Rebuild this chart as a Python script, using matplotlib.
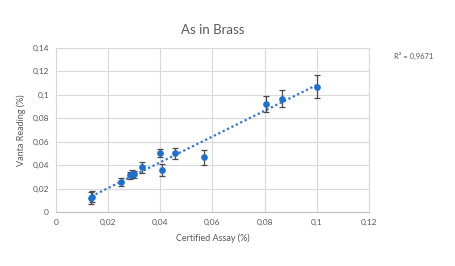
import numpy as np
import matplotlib
matplotlib.use('Agg')
import matplotlib.pyplot as plt
from matplotlib.ticker import FuncFormatter

plt.rcParams['font.family'] = ['Lato', 'DejaVu Sans']

# Data
certified = [0.0135, 0.0140, 0.0250, 0.0285, 0.0293, 0.0300, 0.0329, 0.0398, 0.0408, 0.0457, 0.0567, 0.0807, 0.0867, 0.0999]
vanta = [0.0118, 0.0132, 0.0259, 0.0315, 0.0327, 0.0322, 0.0380, 0.0503, 0.0358, 0.0500, 0.0466, 0.0920, 0.0966, 0.1070]
err = [0.0050, 0.0045, 0.0035, 0.0030, 0.0030, 0.0030, 0.0050, 0.0033, 0.0050, 0.0050, 0.0067, 0.0067, 0.0073, 0.0097]
r2_text = 'R² = 0,9671'

x_ticks = [0, 0.02, 0.04, 0.06, 0.08, 0.1, 0.12]
y_ticks = [0, 0.02, 0.04, 0.06, 0.08, 0.1, 0.12, 0.14]

grey = '#595959'
grid = '#d9d9d9'

fig = plt.figure(figsize=(4.55, 2.66), dpi=100)
ax = fig.add_axes([0.123, 0.203, 0.688, 0.617])

# trendline
slope, intercept = np.polyfit(certified, vanta, 1)
xs = np.array([min(certified), max(certified)])
ax.plot(xs, slope * xs + intercept, linestyle=(0, (1, 1.2)), color='#2e75d6', linewidth=1.6, zorder=2)

ax.errorbar(certified, vanta, yerr=err, fmt='o', color='#1f6fd0', markersize=3.8,
            ecolor='#4a4a4a', elinewidth=0.9, capsize=2, capthick=0.9, zorder=3)

ax.set_xlim(0, 0.12)
ax.set_ylim(0, 0.14)
ax.set_xticks(x_ticks)
ax.set_yticks(y_ticks)

fmt = FuncFormatter(lambda v, p: ('%g' % round(v, 4)).replace('.', ','))
ax.xaxis.set_major_formatter(fmt)
ax.yaxis.set_major_formatter(fmt)

ax.grid(True, color=grid, linewidth=0.8)
ax.set_axisbelow(True)
for s in ['top', 'right', 'left']:
    ax.spines[s].set_color(grid)
ax.spines['bottom'].set_color('#bfbfbf')
ax.tick_params(length=0, labelsize=6, labelcolor=grey, pad=5)

ax.set_title('As in Brass', fontsize=9.5, color=grey, pad=10)
ax.set_xlabel('Certified Assay (%)', fontsize=6.5, color=grey, labelpad=5)
ax.set_ylabel('Vanta Reading (%)', fontsize=6.5, color=grey, labelpad=5)

fig.text(0.865, 0.78, r2_text, fontsize=5.5, color=grey)

fig.savefig('out.png', dpi=100)
